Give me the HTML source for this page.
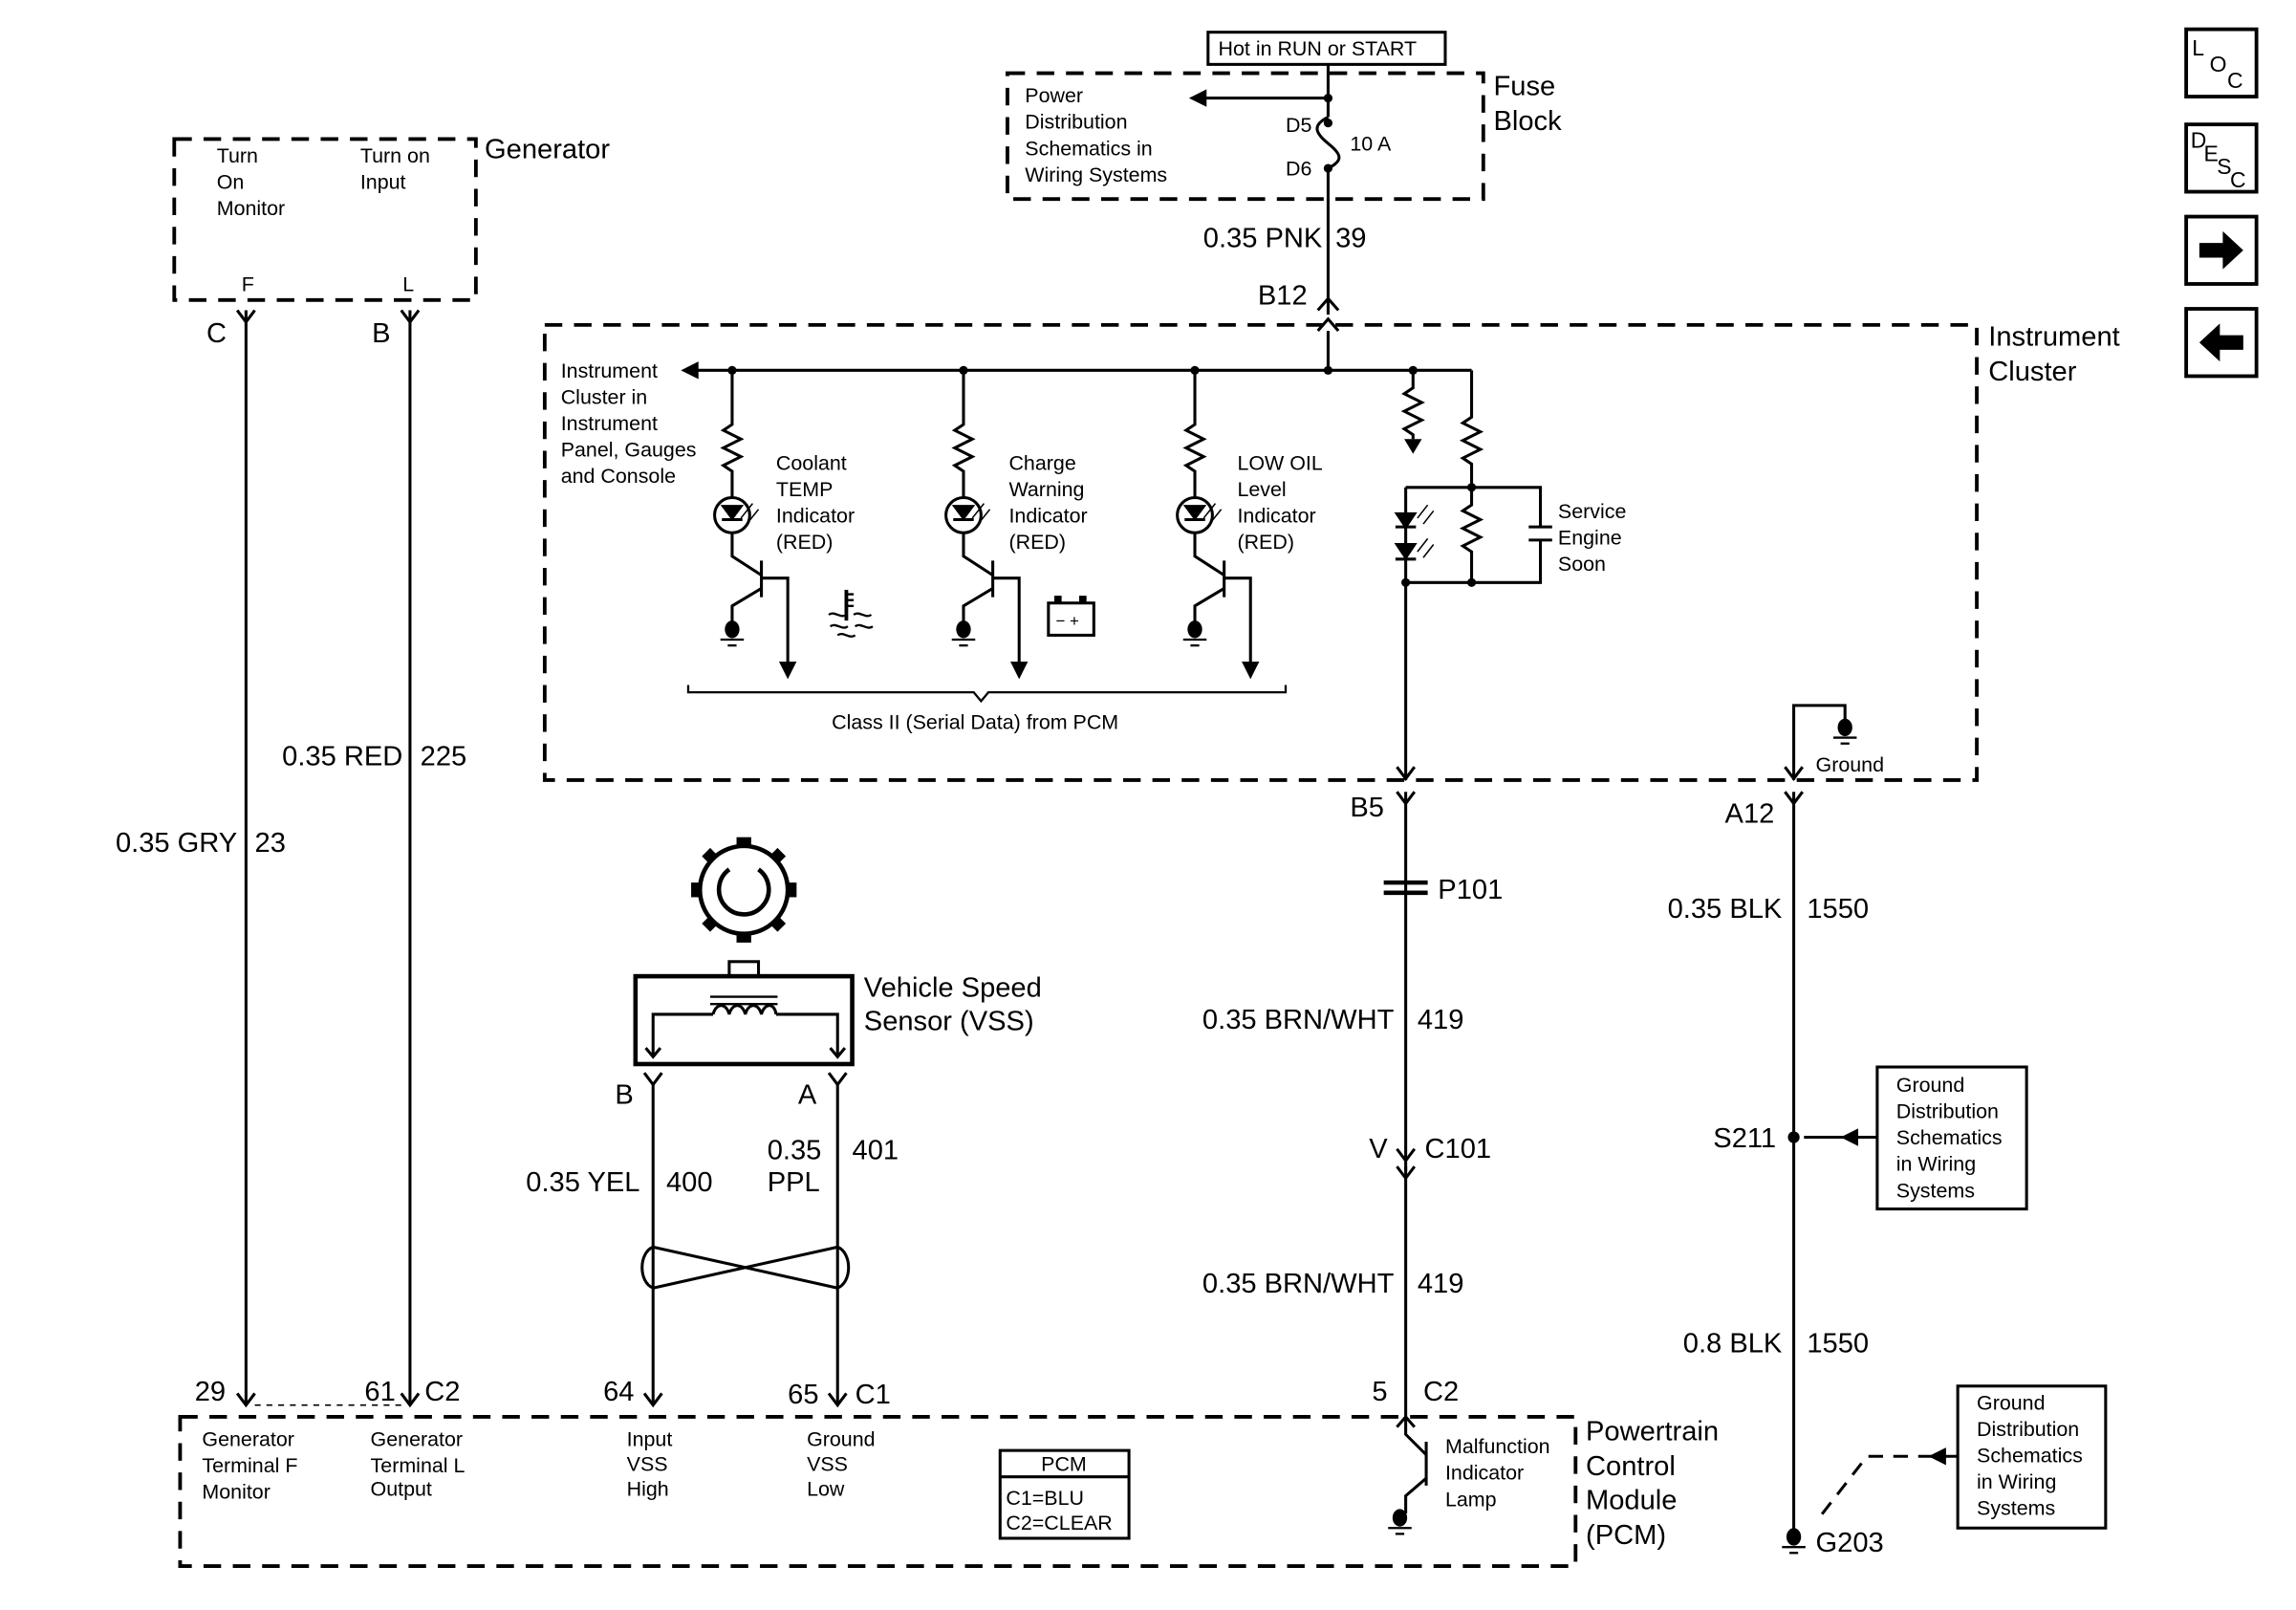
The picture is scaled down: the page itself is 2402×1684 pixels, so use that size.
<!DOCTYPE html>
<html><head><meta charset="utf-8"><style>html,body{margin:0;padding:0;background:#fff}svg{display:block}text{font-family:"Liberation Sans",sans-serif;fill:#000}</style></head><body>
<svg width="2402" height="1684" viewBox="0 0 1568 1100" preserveAspectRatio="none" xmlns="http://www.w3.org/2000/svg">
<defs>
<g id="gnd"><ellipse cx="0" cy="0" rx="5" ry="6" fill="#000"/><line x1="-8" y1="7" x2="8" y2="7" stroke="#000" stroke-width="1.5"/><line x1="-3" y1="11" x2="3" y2="11" stroke="#000" stroke-width="1.5"/></g>
<g id="ind" fill="none" stroke="#000" stroke-width="2">
<circle cx="0" cy="253" r="3" fill="#000" stroke="none"/>
<path d="M0 253V290l-6 4 12 6-12 6 12 6-12 6 6 4V340"/>
<circle cx="0" cy="352" r="12"/>
<path d="M-6 346h12l-6 8z" fill="#000"/><line x1="-7" y1="355" x2="7" y2="355"/>
<path d="M0 364V380l20 13M20 383v25M20 395h18v60M20 402l-20 12v16" />
<path d="M32 452h12l-6 12z" fill="#000" stroke="none"/>
<path d="M14 344l-8 10M18 348l-8 10" stroke-width="1"/>
<use href="#gnd" x="0" y="430" stroke="none"/>
</g>
</defs>
<g fill="none" stroke="#000" stroke-width="2.5" stroke-dasharray="12,8">
<rect x="688" y="50" width="325" height="86"/>
<rect x="119" y="95" width="206" height="110"/>
<rect x="372" y="222" width="978" height="311"/>
<rect x="123" y="968" width="953" height="102"/>
</g>
<g fill="none" stroke="#000" stroke-width="2">
<rect x="825" y="22" width="162" height="22"/>
<line x1="907" y1="44" x2="907" y2="80"/>
<path d="M907 80c-10 5-10 10 0 18s10 12 0 17"/>
<line x1="907" y1="115" x2="907" y2="215"/>
<line x1="907" y1="67" x2="822" y2="67"/>
<path d="M900 212l7-8 7 8M900 226l7-8 7 8"/>
<line x1="907" y1="226" x2="907" y2="253"/>
<line x1="470" y1="253" x2="1005" y2="253"/>
<path d="M162 212l6 8 6-8M274 212l6 8 6-8"/>
<line x1="168" y1="212" x2="168" y2="960"/><line x1="280" y1="212" x2="280" y2="960"/>
<path d="M162 952l6 8 6-8M274 952l6 8 6-8"/>
<path d="M965 253V265l-6 4 12 6-12 6 12 6-12 6 6 4V300"/>
<path d="M959 300h12l-6 10z" fill="#000" stroke="none"/>
<path d="M1005 253V285l-6 4 12 6-12 6 12 6-12 6 6 4V333"/>
<path d="M960 333H1052V360M1044 360h16M1044 369h16M1052 369V398H960M1005 333v12l-6 4 12 6-12 6 12 6-12 6 6 4V398"/>
<path d="M960 333V398"/>
<path d="M954 351h12l-6 9z M954 372h12l-6 9z" fill="#000"/>
<line x1="953" y1="360" x2="967" y2="360"/><line x1="953" y1="382" x2="967" y2="382"/>
<path d="M975 345l-7 9M979 349l-7 9M975 368l-7 9M979 372l-7 9" stroke-width="1"/>
<line x1="960" y1="398" x2="960" y2="533"/>
<path d="M954 524l6 8 6-8M954 541l6 8 6-8"/>
<line x1="960" y1="541" x2="960" y2="800"/>
<path d="M945 603h30M945 610h30" stroke-width="3"/>
<path d="M954 785l6 8 6-8M954 797l6 8 6-8"/>
<line x1="960" y1="797" x2="960" y2="968"/>
<path d="M954 975l6-7 6 7"/>
<path d="M960 968V980l14 14M974 985v30M974 1010l-14 12v12"/>
<path d="M1225 533V482H1260V492"/>
<path d="M1219 524l6 8 6-8M1219 541l6 8 6-8"/>
<line x1="1225" y1="541" x2="1225" y2="1045"/>
<line x1="1232" y1="777" x2="1282" y2="777"/>
<rect x="1282" y="729" width="102" height="97"/>
<rect x="1337" y="947" width="101" height="97"/>
<path d="M1337 995H1275L1240 1040" stroke-dasharray="10,7"/>
<circle cx="508" cy="608" r="30" stroke-width="3"/>
<path d="M498 594a17 17 0 1 0 20 0" stroke-width="3"/>
<rect x="498" y="657" width="20" height="10"/>
<rect x="434" y="667" width="148" height="60" stroke-width="3"/>
<path d="M446 722V693H487M530 693H572V722"/>
<path d="M487 693c2-8 9-8 11 0c2-8 9-8 11 0c2-8 9-8 11 0c2-8 9-8 10 0"/>
<path d="M485 681h46M485 686h46" stroke-width="1.5"/>
<path d="M441 716l5 6 5-6M567 716l5 6 5-6"/>
<path d="M440 733l6 8 6-8M566 733l6 8 6-8"/>
<line x1="446" y1="741" x2="446" y2="960"/><line x1="572" y1="741" x2="572" y2="960"/>
<path d="M446 852L572 880M446 880L572 852M446 852c-10 4-10 24 0 28M572 852c10 4 10 24 0 28"/>
<path d="M440 952l6 8 6-8M566 952l6 8 6-8"/>
<line x1="174" y1="960" x2="274" y2="960" stroke-dasharray="4,4" stroke-width="1"/>
<rect x="683" y="991" width="88" height="60"/><line x1="683" y1="1009" x2="771" y2="1009"/>
<path d="M470 468v5H665l5 6 5-6H878v-5" stroke-width="1.5"/>
<rect x="716" y="412" width="31" height="22"/>
<path d="M566 420c4-3 8 3 12 0M583 420c4-3 8 3 12 0M567 428c4-3 8 3 12 0M584 428c4-3 8 3 12 0M572 434c4-3 8 3 12 0" stroke-width="1.5"/>
<line x1="578" y1="403" x2="578" y2="424" stroke-width="2.5"/>
<path d="M578 406h5M578 410h5M578 414h5" stroke-width="1.5"/>
</g>
<g fill="#000">
<rect x="503" y="572" width="10" height="7"/><rect x="503" y="637" width="10" height="7"/>
<rect x="472" y="603" width="7" height="10"/><rect x="537" y="603" width="7" height="10"/>
<rect x="481" y="581" width="8" height="8" transform="rotate(45 485 585)"/><rect x="527" y="581" width="8" height="8" transform="rotate(45 531 585)"/>
<rect x="481" y="627" width="8" height="8" transform="rotate(45 485 631)"/><rect x="527" y="627" width="8" height="8" transform="rotate(45 531 631)"/>
<rect x="720" y="407" width="5" height="5"/><rect x="737" y="407" width="5" height="5"/>
</g>
<path d="M812 67l12-6v12z M465 253l12-6v12z" fill="#000"/>
<circle cx="907" cy="67" r="3"/><circle cx="907" cy="84" r="3"/><circle cx="907" cy="115" r="3"/><circle cx="907" cy="253" r="3"/><circle cx="965" cy="253" r="3"/><circle cx="1005" cy="333" r="3"/><circle cx="960" cy="398" r="3"/><circle cx="1005" cy="398" r="3"/><circle cx="1225" cy="777" r="4"/>
<path d="M1257 777l12-6v12z M1317 995l12-6v12z" fill="#000"/>
<use href="#ind" x="500"/><use href="#ind" x="658"/><use href="#ind" x="816"/>
<use href="#gnd" x="1260" y="497"/><use href="#gnd" x="956" y="1037"/><use href="#gnd" x="1225" y="1050"/>
<g font-size="14">
<text x="832" y="38">Hot in RUN or START</text>
<text x="700" y="70">Power</text><text x="700" y="88">Distribution</text><text x="700" y="106">Schematics in</text><text x="700" y="124">Wiring Systems</text>
<text x="878" y="90">D5</text><text x="878" y="120">D6</text><text x="922" y="103">10 A</text>
<text x="148" y="111">Turn</text><text x="148" y="129">On</text><text x="148" y="147">Monitor</text>
<text x="246" y="111">Turn on</text><text x="246" y="129">Input</text>
<text x="165" y="199">F</text><text x="275" y="199">L</text>
<text x="383" y="258">Instrument</text><text x="383" y="276">Cluster in</text><text x="383" y="294">Instrument</text><text x="383" y="312">Panel, Gauges</text><text x="383" y="330">and Console</text>
<text x="530" y="321">Coolant</text><text x="530" y="339">TEMP</text><text x="530" y="357">Indicator</text><text x="530" y="375">(RED)</text>
<text x="689" y="321">Charge</text><text x="689" y="339">Warning</text><text x="689" y="357">Indicator</text><text x="689" y="375">(RED)</text>
<text x="845" y="321">LOW OIL</text><text x="845" y="339">Level</text><text x="845" y="357">Indicator</text><text x="845" y="375">(RED)</text>
<text x="1064" y="354">Service</text><text x="1064" y="372">Engine</text><text x="1064" y="390">Soon</text>
<text x="568" y="498">Class II (Serial Data) from PCM</text>
<text x="1240" y="527">Ground</text>
<text x="1295" y="746">Ground</text><text x="1295" y="764">Distribution</text><text x="1295" y="782">Schematics</text><text x="1295" y="800">in Wiring</text><text x="1295" y="818">Systems</text>
<text x="1350" y="963">Ground</text><text x="1350" y="981">Distribution</text><text x="1350" y="999">Schematics</text><text x="1350" y="1017">in Wiring</text><text x="1350" y="1035">Systems</text>
<text x="138" y="988">Generator</text><text x="138" y="1006">Terminal F</text><text x="138" y="1024">Monitor</text>
<text x="253" y="988">Generator</text><text x="253" y="1006">Terminal L</text><text x="253" y="1022">Output</text>
<text x="428" y="988">Input</text><text x="428" y="1005">VSS</text><text x="428" y="1022">High</text>
<text x="551" y="988">Ground</text><text x="551" y="1005">VSS</text><text x="551" y="1022">Low</text>
<text x="711" y="1005">PCM</text><text x="687" y="1028">C1=BLU</text><text x="687" y="1045">C2=CLEAR</text>
<text x="987" y="993">Malfunction</text><text x="987" y="1011">Indicator</text><text x="987" y="1029">Lamp</text>
<text x="721" y="428" font-size="11">− +</text>
</g>
<g font-size="19">
<text x="1020" y="65">Fuse</text><text x="1020" y="89">Block</text>
<text x="331" y="108">Generator</text>
<text x="1358" y="236">Instrument</text><text x="1358" y="260">Cluster</text>
<text x="903" y="169" text-anchor="end">0.35 PNK</text><text x="912" y="169">39</text>
<text x="859" y="208">B12</text>
<text x="141" y="234">C</text><text x="254" y="234">B</text>
<text x="275" y="523" text-anchor="end">0.35 RED</text><text x="287" y="523">225</text>
<text x="162" y="582" text-anchor="end">0.35 GRY</text><text x="174" y="582">23</text>
<text x="590" y="681">Vehicle Speed</text><text x="590" y="704">Sensor (VSS)</text>
<text x="420" y="754">B</text><text x="545" y="754">A</text>
<text x="524" y="792">0.35</text><text x="524" y="814">PPL</text><text x="582" y="792">401</text>
<text x="437" y="814" text-anchor="end">0.35 YEL</text><text x="455" y="814">400</text>
<text x="922" y="558">B5</text>
<text x="982" y="614">P101</text>
<text x="952" y="703" text-anchor="end">0.35 BRN/WHT</text><text x="968" y="703">419</text>
<text x="935" y="791">V</text><text x="973" y="791">C101</text>
<text x="952" y="883" text-anchor="end">0.35 BRN/WHT</text><text x="968" y="883">419</text>
<text x="937" y="957">5</text><text x="972" y="957">C2</text>
<text x="1178" y="562">A12</text>
<text x="1217" y="627" text-anchor="end">0.35 BLK</text><text x="1234" y="627">1550</text>
<text x="1170" y="784">S211</text>
<text x="1217" y="924" text-anchor="end">0.8 BLK</text><text x="1234" y="924">1550</text>
<text x="1240" y="1060">G203</text>
<text x="133" y="957">29</text><text x="249" y="957">61</text><text x="290" y="957">C2</text>
<text x="412" y="957">64</text><text x="538" y="959">65</text><text x="584" y="959">C1</text>
<text x="1083" y="984">Powertrain</text><text x="1083" y="1008">Control</text><text x="1083" y="1031">Module</text><text x="1083" y="1055">(PCM)</text>
</g>
<g fill="none" stroke="#000" stroke-width="2.5">
<rect x="1493" y="20" width="48" height="46"/><rect x="1493" y="85" width="48" height="46"/><rect x="1493" y="148" width="48" height="46"/><rect x="1493" y="211" width="48" height="46"/>
</g>
<g font-size="15"><text x="1497" y="38">L</text><text x="1509" y="49">O</text><text x="1521" y="60">C</text>
<text x="1496" y="101">D</text><text x="1505" y="110">E</text><text x="1514" y="119">S</text><text x="1523" y="128">C</text></g>
<path d="M1502 166h16v-8l14 13-14 13v-8h-16z M1532 229h-16v-8l-14 13 14 13v-8h16z" fill="#000"/>
</svg>
</body></html>
